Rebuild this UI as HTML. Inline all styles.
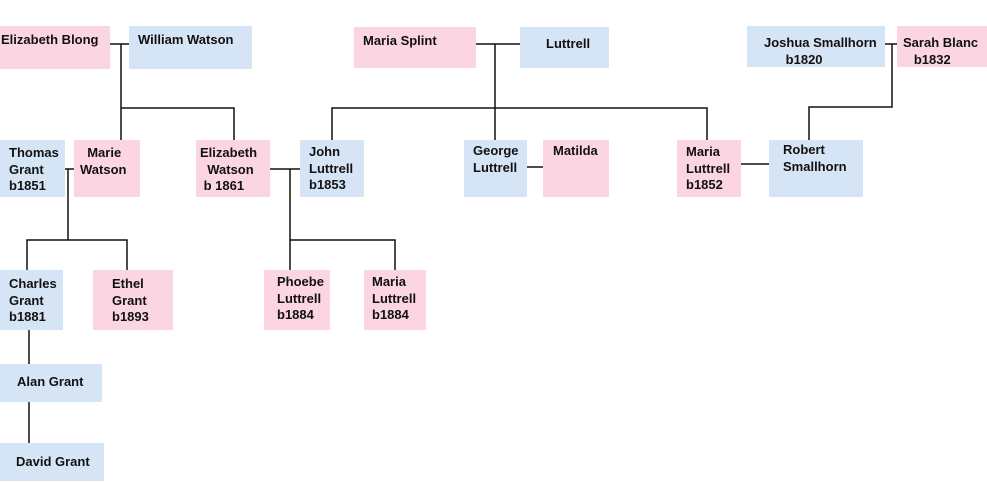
<!DOCTYPE html>
<html><head><meta charset="utf-8"><style>
body{margin:0;width:987px;height:483px;background:#fff;position:relative;overflow:hidden;font-family:"Liberation Sans",sans-serif;font-weight:bold;font-size:13px;line-height:16.5px;color:#111}
.b{position:absolute;box-sizing:border-box;white-space:pre}
.p{background:#fbd5e2}.u{background:#d6e5f5}
svg{position:absolute;left:0;top:0}
</style></head><body>
<div class="b p" style="left:0;top:26px;width:110px;height:43px;padding:6px 0 0 1px">Elizabeth Blong</div>
<div class="b u" style="left:129px;top:26px;width:123px;height:43px;padding:6px 0 0 9px">William Watson</div>
<div class="b p" style="left:354px;top:27px;width:122px;height:41px;padding:6px 0 0 9px">Maria Splint</div>
<div class="b u" style="left:520px;top:27px;width:89px;height:41px;padding:9px 0 0 26px">Luttrell</div>
<div class="b u" style="left:747px;top:26px;width:138px;height:41px;padding:9px 0 0 17px">Joshua Smallhorn
      b1820</div>
<div class="b p" style="left:897px;top:26px;width:90px;height:41px;padding:9px 0 0 6px">Sarah Blanc
   b1832</div>
<div class="b u" style="left:0;top:140px;width:65px;height:57px;padding:5px 0 0 9px">Thomas
Grant
b1851</div>
<div class="b p" style="left:74px;top:140px;width:66px;height:57px;padding:5px 0 0 6px">  Marie
Watson</div>
<div class="b p" style="left:196px;top:140px;width:74px;height:57px;padding:5px 0 0 4px">Elizabeth
  Watson
 b 1861</div>
<div class="b u" style="left:300px;top:140px;width:64px;height:57px;padding:4px 0 0 9px">John
Luttrell
b1853</div>
<div class="b u" style="left:464px;top:140px;width:63px;height:57px;padding:3px 0 0 9px">George
Luttrell</div>
<div class="b p" style="left:543px;top:140px;width:66px;height:57px;padding:3px 0 0 10px">Matilda</div>
<div class="b p" style="left:677px;top:140px;width:64px;height:57px;padding:4px 0 0 9px">Maria
Luttrell
b1852</div>
<div class="b u" style="left:769px;top:140px;width:94px;height:57px;padding:2px 0 0 14px">Robert
Smallhorn</div>
<div class="b u" style="left:0;top:270px;width:63px;height:60px;padding:6px 0 0 9px">Charles
Grant
b1881</div>
<div class="b p" style="left:93px;top:270px;width:80px;height:60px;padding:6px 0 0 19px">Ethel
Grant
b1893</div>
<div class="b p" style="left:264px;top:270px;width:66px;height:60px;padding:4px 0 0 13px">Phoebe
Luttrell
b1884</div>
<div class="b p" style="left:364px;top:270px;width:62px;height:60px;padding:4px 0 0 8px">Maria
Luttrell
b1884</div>
<div class="b u" style="left:0;top:364px;width:102px;height:38px;padding:10px 0 0 17px">Alan Grant</div>
<div class="b u" style="left:0;top:443px;width:104px;height:38px;padding:11px 0 0 16px">David Grant</div>
<svg width="987" height="483" stroke="#111" stroke-width="1.5" fill="none">
<path d="M110 44H129M121 44V140M121 108H234V140"/>
<path d="M476 44H520M495 44V140M332 140V108H707V140"/>
<path d="M885 44H897M892 44V107H809V140"/>
<path d="M65 169H74M68 169V240M27 270V240H127V270"/>
<path d="M270 169H300M290 169V270M290 240H395V270"/>
<path d="M527 167H543M741 164H769"/>
<path d="M29 330V364M29 402V443"/>
</svg>
</body></html>
